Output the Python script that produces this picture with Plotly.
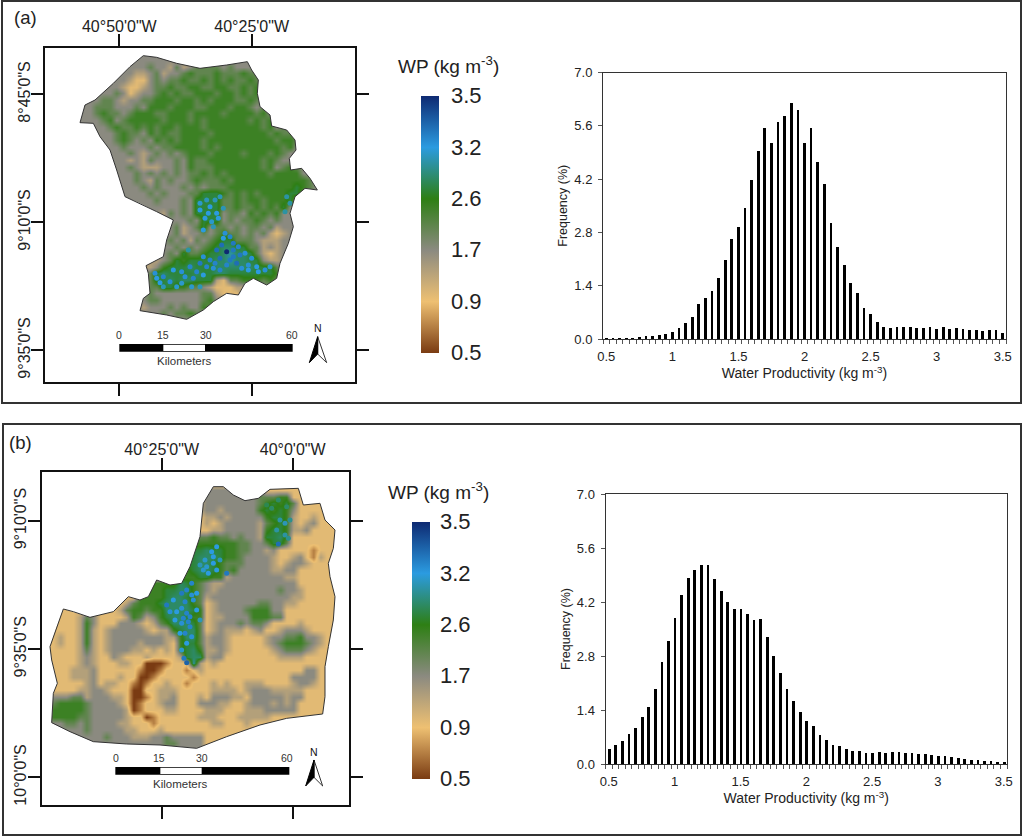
import plotly.graph_objects as go

# ---------- histogram data (Frequency %, one bar per 0.05 kg m-3) ----------
WP_BINS = [round(0.5 + 0.05 * i, 2) for i in range(61)]
FREQ_A = [.035,.04,.035,.05,.05,.07,.08,.08,.13,.14,.21,.30,.44,.58,.93,1.10,1.27,1.62,2.09,2.63,2.95,3.46,4.19,4.96,5.56,5.16,5.70,5.87,6.20,6.04,5.15,5.56,4.65,4.08,3.06,2.44,1.96,1.48,1.22,.83,.67,.45,.32,.31,.33,.32,.32,.31,.30,.32,.28,.32,.28,.31,.27,.25,.25,.22,.25,.25,.17]
FREQ_B = [.38,.49,.60,.77,.94,1.22,1.48,1.94,2.65,3.18,3.78,4.38,4.83,5.02,5.17,5.17,4.79,4.49,4.21,4.03,4.03,3.88,3.73,3.77,3.28,2.80,2.35,1.95,1.63,1.36,1.12,.98,.74,.61,.49,.47,.39,.34,.35,.29,.29,.31,.29,.32,.30,.29,.28,.26,.26,.23,.22,.20,.17,.155,.14,.11,.11,.07,.08,.04,.04]
Y_TICKS = [0, 1.4, 2.8, 4.2, 5.6, 7.0]
X_TICKS = [0.5, 1, 1.5, 2, 2.5, 3, 3.5]
X_LABELS = ["0.5", "1", "1.5", "2", "2.5", "3", "3.5"]

# ---------- legend ----------
WP_LABELS = ["0.5", "0.9", "1.7", "2.6", "3.2", "3.5"]
WP_COLORS = ["#7a3b12", "#eec072", "#8b8a80", "#2e7f14", "#2b9be0", "#0e2a72"]
CLASS_RAMP = [0, 0.5, 1.12, 1.6, 2, 2.45, 2.85, 3.2, 3.4, 3.7]

# ---------- coarse WP class rasters (digit = class) ----------
RASTER_A = [
"4444444444444444444444444444444444444",
"4444444444444443434544444444444444444",
"4444444444454435345555454444444444444",
"4444444443345344565556555655544444444",
"4444444432245455655656565565454444444",
"4444444322345565566556655656554444444",
"4444445423445656556665665656545444444",
"4444554344556665665656665565454444444",
"4445554445466656665566656654555444444",
"4445655456665566656666566665645444444",
"4444564566666566656566666656565444444",
"4444456556565665666566666666564544444",
"4444445655465655666656666666656555444",
"4444445654546565666566666666665665444",
"4444444544454556666565666666666564444",
"4444444454345454566656666566656544444",
"4444444434354445465566666666565444444",
"4444444454333445465556666666564565444",
"4444444445454545455656566666656666444",
"4444444445435454456555656666666666654",
"4444444444545444545455566666666667654",
"4444444444454544455777656565666677544",
"4444444444445444547777556566566674444",
"4444444444444444547777556556565744444",
"4444444444444354547777455465656444444",
"4444444444444444454777454556545444444",
"4444444444444345345745545455453444444",
"4444444444444345344545655454532344444",
"4444444444444454535456775554333444444",
"4444444444443445454567887755343444444",
"4444444444445454755677898875323444444",
"4444444444333457677778898877433444444",
"4444444444334677787778888887775444444",
"4444444444457877778778877777776444444",
"4444444444457787887773255666565444444",
"4444444444455776655432223345444444444",
"4444444444454444444553222454444444444",
"4444444444455444444564445544444444444",
"4444444444344454544655444444444444444",
"4444444444444545565444444444444444444",
"4444444444444444444444444444444444444"]
RASTER_B = [
"222222222222222222222222222222222222222222222",
"222222222222222222222222444444444222222222222",
"222222222222222222222222444444445556622222222",
"222222222222222222222223444444445676752222222",
"222222222222222222222223443444446767642222222",
"222222222222222222222222334344444677632232222",
"222222222222222222222222323444443567632342222",
"222222222222222222222232233444443677633422222",
"222222222222222222222555565545443778622222222",
"222222222222222222222566666665544577522222222",
"222222222222222222225677877665544342222212222",
"222222222222222222225778887665444432234213222",
"222222222222222222255778876555444432344322222",
"222222222222222222256678876564444433442222222",
"222222222222222222266667766344444444332222222",
"222222222222222566668765433444444444442222222",
"222222222222223666778865434444444445443222222",
"222222222222226666788765344444444444433222222",
"222222222222356667888865234444445544332222222",
"222222222223566566888876234444566644222222222",
"222223542222365346788766233444466655222222222",
"222223642224443235688875234445455422223222222",
"222223632344444323367885234333234223444322222",
"223223632344444444336885344322222344556443222",
"223223632344443444326775344322222345666543222",
"222223532344433232326786334322222234555432222",
"222223432243222322223788344222222223333222222",
"222223432223322000122293232222222222222222222",
"222233342222221001222123222222222222222442222",
"222233342223220012222212222222222222244442222",
"222222342332210122322122232322333222234432222",
"222223344322200223332222233332344433333222222",
"344455344433200123342223244433244444344222222",
"456666544443201223442224443322344434342222222",
"566666544444301222332222333222333444442222222",
"466665544444322012222223332223333322222222222",
"444554544443322212222222233222322222222222222",
"444444544444332223222222222222222222222222222",
"444444444544433344544444222222222222222222222",
"444444444444444444554444222222222222222222222",
"444444444444444444444444222222222222222222222"]

# ---------- traced map geometry (tracing units, converted to lon/lat below) ----------
OUT_A = [(430,167),(470,172),(530,190),(600,205),(680,195),(742,185),(755,210),(775,240),(772,280),(780,320),(810,345),(815,378),(860,390),(885,420),(888,450),(868,475),(872,510),(905,505),(930,535),(952,570),(915,565),(885,590),(870,640),(880,680),(865,730),(840,790),(830,835),(800,855),(760,835),(735,850),(715,885),(680,880),(640,905),(610,930),(560,958),(500,945),(420,932),(430,895),(450,880),(445,820),(438,797),(490,770),(500,720),(520,660),(470,635),(420,610),(375,590),(350,510),(330,450),(300,410),(280,370),(240,368),(255,315),(285,300),(340,250),(390,200)]
DOTS_A = [(600,630),(615,655),(630,620),(645,600),(660,590),(650,640),(670,625),(610,690),(640,680),(655,655),(620,600),(690,710),(700,730),(665,735),(680,755),(650,750),(715,740),(735,760),(700,770),(660,775),(630,780),(680,795),(710,790),(745,795),(770,800),(795,810),(600,790),(570,800),(545,815),(520,810),(490,830),(470,835),(510,845),(545,850),(580,835),(610,825),(575,860),(600,860),(490,860),(640,805),(565,750),(860,590),(855,635),(870,610),(745,810),(670,715),
          (625,640),(600,610),(635,665),(675,700),(720,765),(755,775),(690,780),(645,790),(610,770),(555,830),(530,860),(465,820),(590,815),(775,815),(810,800),(725,805),(660,810),(700,750),(620,800),(480,848)]
DOTC_A = [4,4,4,3.8,3.8,4,3.8,4,3.8,4,3.8,4.2,4.3,4.4,5,4.4,4.2,4.1,4.3,4.4,4.2,4.2,4.4,4.1,4,4.1,4.3,4.2,4.1,4,4.2,4,4.1,3.9,4.2,4,3.9,3.8,3.8,4.1,3.7,3.7,3.7,3.7,4,4,
          4,3.9,3.9,4.1,4.3,4.1,4.3,4.2,4.1,4.1,3.9,4.1,4.2,4,3.9,4.1,4.2,4.3,4.2,4]

OUT_B = [(640,200),(670,200),(700,225),(735,242),(775,235),(810,208),(895,205),(910,255),(960,250),(975,300),(1005,330),(1000,385),(985,430),(990,470),(1005,530),(1000,600),(985,680),(975,740),(975,830),(968,882),(860,895),(780,915),(680,950),(590,985),(480,975),(380,972),(280,965),(210,935),(155,908),(160,820),(172,790),(155,720),(150,680),(170,620),(190,567),(220,575),(270,592),(340,575),(385,530),(420,540),(445,530),(470,480),(510,495),(545,490),(570,440),(600,350),(610,250)]
DOTS_B = [(835,240),(860,260),(815,265),(800,255),(840,300),(855,310),(870,300),(830,330),(855,345),(835,372),(865,355),(615,420),(635,395),(650,380),(610,450),(640,430),(660,420),(625,460),(680,460),(600,435),(560,510),(575,490),(545,520),(520,540),(500,555),(555,545),(580,540),(530,575),(560,580),(600,600),(545,610),(570,620),(555,640),(575,650),(560,670),(545,690),(560,728),(590,570),(525,600),
          (640,410),(620,440),(650,450),(545,565),(570,590),(590,520),(510,575),(550,595),(565,605),(540,640),(552,715),(575,525)]
DOTC_B = [3.4,3.4,3.4,3.3,3.7,3.8,3.6,3.7,3.7,4.4,3.6,3.9,4,4,3.9,4,3.8,4,4.3,3.8,4.2,4.2,4.3,4,4.3,4.2,4.1,4,4.2,3.8,4.1,4.2,4.2,4.1,4,3.9,4.5,4,4,
          4,3.9,4,4.1,4.2,4,4.1,4.2,4.2,4,4.3,4.1]

# tick labels of the map frames
A_LON = [-(40+50/60), -(40+25/60)]; A_LON_TXT = ['40°50\'0"W', '40°25\'0"W']
A_LAT = [-8.75, -(9+10/60), -(9+35/60)]; A_LAT_TXT = ['8°45\'0"S', '9°10\'0"S', '9°35\'0"S']
B_LON = [-(40+25/60), -40.0]; B_LON_TXT = ['40°25\'0"W', '40°0\'0"W']
B_LAT = [-(9+10/60), -(9+35/60), -10.0]; B_LAT_TXT = ['9°10\'0"S', '9°35\'0"S', '10°0\'0"S']

FONT = "Liberation Sans, Arial, sans-serif"
W, H = 1024, 836
TXT = "#222222"

def gx(v): return v / W
def gy(v): return 1 - v / H

def make_geo(x0, dx, lon0, y0, dy, lat0):
    def conv(pts):
        return ([lon0 + (p[0] - x0) / dx * 25 / 60 for p in pts],
                [lat0 - (p[1] - y0) / dy * 25 / 60 for p in pts])
    return conv

geo_a = make_geo(358, 397, A_LON[0], 283, 384, A_LAT[0])
geo_b = make_geo(485, 393, B_LON[0], 303, 384.5, B_LAT[0])

fig = go.Figure()

def hist(freq, xa, ya):
    fig.add_trace(go.Bar(x=WP_BINS, y=freq, width=0.021, marker=dict(color="black", line_width=0),
                         xaxis=xa, yaxis=ya, showlegend=False))
hist(FREQ_A, "x", "y")
hist(FREQ_B, "x2", "y2")

CSCALE = [[i / 5, c] for i, c in enumerate(WP_COLORS)]

def raster(conv, rows, x0, y0, xa, ya):
    ncol = len(rows[0])
    xs, _ = conv([(x0 + 20 * i, y0) for i in range(ncol)])
    _, ys = conv([(x0, y0 + 20 * j) for j in range(len(rows))])
    z = [[CLASS_RAMP[int(c)] for c in r] for r in rows]
    fig.add_trace(go.Heatmap(x=xs, y=ys[::-1], z=z[::-1], zmin=0, zmax=5, colorscale=CSCALE, showscale=False,
                             zsmooth="best", xaxis=xa, yaxis=ya, hoverinfo="skip"))

def mask(conv, out, frame, xa, ya):
    fx0, fx1, fy0, fy1 = frame
    area = sum(out[i][0] * out[(i + 1) % len(out)][1] - out[(i + 1) % len(out)][0] * out[i][1] for i in range(len(out)))
    ring = list(out) + [out[0]]
    rect = [(fx0, fy0), (fx1, fy0), (fx1, fy1), (fx0, fy1), (fx0, fy0)]
    if area > 0:
        ring = ring[::-1]
    xs, ys = conv(rect + ring + [(fx0, fy0)])
    fig.add_trace(go.Scatter(x=xs, y=ys, mode="lines", fill="toself", fillcolor="white", line=dict(width=0),
                             xaxis=xa, yaxis=ya, showlegend=False, hoverinfo="skip"))

def dots(conv, pts, vals, xa, ya, cb_x, cb_y, gap):
    xs, ys = conv(pts)
    fig.add_trace(go.Scatter(x=xs, y=ys, mode="markers", xaxis=xa, yaxis=ya, showlegend=False,
        marker=dict(color=vals, cmin=0, cmax=5, colorscale=CSCALE, size=5, line_width=0, showscale=True,
            colorbar=dict(thicknessmode="pixels", thickness=18, lenmode="pixels", len=257,
                x=gx(cb_x), xanchor="left", xpad=0, y=gy(cb_y), yanchor="middle", ypad=0,
                outlinewidth=0, tickmode="array", tickvals=list(range(6)), ticktext=WP_LABELS,
                ticks="outside", ticklen=gap, tickcolor="rgba(0,0,0,0)",
                tickfont=dict(family=FONT, size=22, color=TXT)))))

def outline(conv, pts, xa, ya):
    xs, ys = conv(pts)
    fig.add_trace(go.Scatter(x=xs + xs[:1], y=ys + ys[:1], mode="lines", line=dict(color="#333333", width=1),
                             xaxis=xa, yaxis=ya, showlegend=False, hoverinfo="skip"))

FRAME_A = (135, 1065, 145, 1145)
FRAME_B = (125, 1048, 155, 1155)

raster(geo_a, RASTER_A, 230, 160, "x3", "y3")
mask(geo_a, OUT_A, FRAME_A, "x3", "y3")
dots(geo_a, DOTS_A, DOTC_A, "x3", "y3", 421, 224, 8)
outline(geo_a, OUT_A, "x3", "y3")

raster(geo_b, RASTER_B, 140, 190, "x4", "y4")
mask(geo_b, OUT_B, FRAME_B, "x4", "y4")
dots(geo_b, DOTS_B, DOTC_B, "x4", "y4", 412, 650, 6)
outline(geo_b, OUT_B, "x4", "y4")

# histogram axes
def hist_axes(n, x0, x1, y0, y1):
    minor_vals = [0.475 + 0.05 * i for i in range(62)]
    xa = dict(domain=[gx(x0), gx(x1)], range=[0.475, 3.525], tickmode="array", tickvals=X_TICKS, ticktext=X_LABELS,
              ticks="outside", ticklen=5, tickcolor="rgba(0,0,0,0)", showgrid=False, zeroline=False,
              showline=True, mirror=True, linecolor="#333333", linewidth=1,
              tickfont=dict(family=FONT, size=13, color=TXT),
              minor=dict(tickmode="array", tickvals=minor_vals, ticks="outside", ticklen=4, tickcolor="#555555", tickwidth=1, showgrid=False),
              title=dict(text="Water Productivity (kg m<sup>-3</sup>)", font=dict(family=FONT, size=14, color=TXT), standoff=3),
              anchor="y" + ("" if n == 1 else str(n)))
    ya = dict(domain=[gy(y1), gy(y0)], range=[0, 7], tickmode="array", tickvals=Y_TICKS, tickformat=".1f",
              ticks="outside", ticklen=4, tickcolor="#555555", showgrid=False, zeroline=False,
              showline=True, mirror=True, linecolor="#333333", linewidth=1, ticklabelstandoff=3,
              tickfont=dict(family=FONT, size=13, color=TXT),
              title=dict(text="Frequency (%)", font=dict(family=FONT, size=12.5, color=TXT), standoff=3),
              anchor="x" + ("" if n == 1 else str(n)))
    return xa, ya

fig.layout.xaxis, fig.layout.yaxis = hist_axes(1, 603, 1006, 72.5, 339)
fig.layout.xaxis2, fig.layout.yaxis2 = hist_axes(2, 605.5, 1007, 494, 764)

# map axes
def map_axes(n, conv, frame, yoff, lon, lontxt, lat, lattxt):
    fx0, fx1, fy0, fy1 = frame
    (x0, x1), (y1, y0) = conv([(fx0, fy0), (fx1, fy0)])[0], conv([(fx0, fy0), (fx0, fy1)])[1]
    xa = dict(domain=[gx(fx0 / 3), gx(fx1 / 3)], range=[x0, x1], side="top", tickmode="array", tickvals=lon, ticktext=lontxt,
              ticks="outside", ticklen=12, tickwidth=2, tickcolor="#111111", showgrid=False, zeroline=False,
              showline=True, mirror="allticks", linecolor="#111111", linewidth=2, tickangle=0, ticklabelstandoff=-4,
              tickfont=dict(family=FONT, size=16, color=TXT), anchor="y%d" % n)
    ya = dict(domain=[gy(yoff + fy1 / 3), gy(yoff + fy0 / 3)], range=[y0, y1], tickmode="array", tickvals=lat, ticktext=lattxt,
              ticks="outside", ticklen=12, tickwidth=2, tickcolor="#111111", showgrid=False, zeroline=False,
              showline=True, mirror="allticks", linecolor="#111111", linewidth=2, tickangle=-90, ticklabelstandoff=-5,
              tickfont=dict(family=FONT, size=16, color=TXT), anchor="x%d" % n)
    return xa, ya

fig.layout.xaxis3, fig.layout.yaxis3 = map_axes(3, geo_a, FRAME_A, 0, A_LON, A_LON_TXT, A_LAT, A_LAT_TXT)
fig.layout.xaxis4, fig.layout.yaxis4 = map_axes(4, geo_b, FRAME_B, 420, B_LON, B_LON_TXT, B_LAT, B_LAT_TXT)

shapes, annos = [], []
# panel frames
for x0, y0, x1, y1 in [(2, 1, 1021, 403), (3, 424, 1021, 835)]:
    shapes.append(dict(type="rect", xref="paper", yref="paper", x0=gx(x0), x1=gx(x1), y0=gy(y1), y1=gy(y0),
                       line=dict(color="#333333", width=2), layer="below"))

def txt(x, y, s, size):
    annos.append(dict(x=gx(x), y=gy(y), xref="paper", yref="paper", text=s, showarrow=False,
                      font=dict(family=FONT, size=size, color=TXT), xanchor="center", yanchor="middle"))

txt(25, 17, "(a)", 18.5)
txt(20, 442, "(b)", 18.5)
txt(448, 65, "WP (kg m<sup>-3</sup>)", 19)
txt(438, 491, "WP (kg m<sup>-3</sup>)", 19)

def scale_bar(conv, xa, ya, b0, w0, w1, b1, top, bot, lab, lab_y, km_y, narrow):
    (xs, ys) = conv([(b0, top), (b1, bot)])
    shapes.append(dict(type="rect", xref=xa, yref=ya, x0=xs[0], x1=xs[1], y0=ys[1], y1=ys[0], fillcolor="black", line_width=0))
    (xs, ys) = conv([(w0, top + 2), (w1, bot - 2)])
    shapes.append(dict(type="rect", xref=xa, yref=ya, x0=xs[0], x1=xs[1], y0=ys[1], y1=ys[0], fillcolor="white", line_width=0))
    for (px, s) in lab:
        (xs, ys) = conv([(px, lab_y)])
        annos.append(dict(x=xs[0], y=ys[0], xref=xa, yref=ya, text=s, showarrow=False, font=dict(family=FONT, size=10.5, color="#333333")))
    (xs, ys) = conv([((w0 + w1) / 2, km_y)])
    annos.append(dict(x=xs[0], y=ys[0], xref=xa, yref=ya, text="Kilometers", showarrow=False, font=dict(family=FONT, size=11.5, color="#333333")))
    tip, left, notch, right = narrow
    (xs, ys) = conv([(tip[0], tip[1] - 25)])
    annos.append(dict(x=xs[0], y=ys[0], xref=xa, yref=ya, text="N", showarrow=False, font=dict(family=FONT, size=10.5, color="#111111")))
    xs, ys = conv([tip, right, notch, tip])
    fig.add_trace(go.Scatter(x=xs, y=ys, mode="lines", fill="toself", fillcolor="white", line=dict(color="#333333", width=1),
                             xaxis=xa, yaxis=ya, showlegend=False, hoverinfo="skip"))
    xs, ys = conv([tip, left, notch, tip])
    fig.add_trace(go.Scatter(x=xs, y=ys, mode="lines", fill="toself", fillcolor="black", line=dict(color="black", width=1),
                             xaxis=xa, yaxis=ya, showlegend=False, hoverinfo="skip"))

scale_bar(geo_a, "x3", "y3", 358, 490, 615, 878, 1032, 1055, [(358, "0"), (488, "15"), (617, "30"), (875, "60")], 1005, 1082,
          [(953, 1010), (928, 1088), (953, 1062), (980, 1088)])
scale_bar(geo_b, "x4", "y4", 346, 481, 605, 868, 1041, 1064, [(348, "0"), (478, "15"), (605, "30"), (862, "60")], 1013, 1092,
          [(942, 1020), (917, 1098), (942, 1072), (968, 1098)])

fig.update_layout(width=W, height=H, autosize=False, margin=dict(l=0, r=0, t=0, b=0, autoexpand=False), paper_bgcolor="white",
                  plot_bgcolor="rgba(0,0,0,0)", shapes=shapes, annotations=annos, bargap=0, font=dict(family=FONT))

fig.write_html("out.html", config={"displayModeBar": False},
               post_script="document.body.style.margin='0';document.documentElement.style.overflow='hidden';")
